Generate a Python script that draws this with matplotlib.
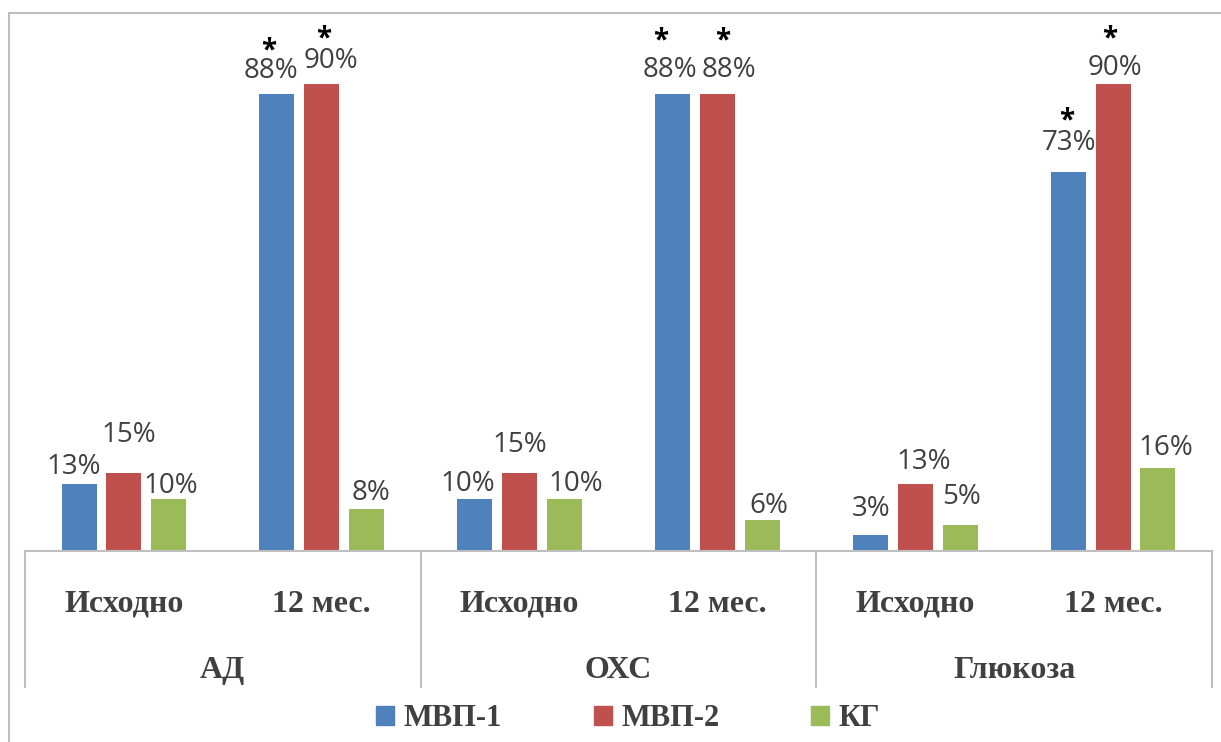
import matplotlib
matplotlib.use('Agg')
import matplotlib.pyplot as plt
from matplotlib.patches import Rectangle, Patch

plt.rcParams['font.family'] = ['Open Sans', 'DejaVu Sans']

groups = ['АД', 'ОХС', 'Глюкоза']
periods = ['Исходно', '12 мес.']
series_names = ['МВП-1', 'МВП-2', 'КГ']
mvp1 = [13, 88, 10, 88, 3, 73]
mvp2 = [15, 90, 15, 88, 13, 90]
kg = [10, 8, 10, 6, 5, 16]
# significant change vs. baseline, marked with *
star_mvp1 = [0, 1, 0, 1, 0, 1]
star_mvp2 = [0, 1, 0, 1, 0, 1]

colors = ['#4F81BD', '#C0504D', '#9BBB59']
grid_col = '#BFBFBF'
text_col = '#404040'

# hand-placed nudges for the value labels, in pixels
label_dx = [[-5, -6, -7, -3, 1, 1], [5, 9, 0, 12, 8, 2], [2, 4, 11, 6, 1, 8]]
label_dy = [[10, 16, 8, 17, 19, 22], [31, 16, 21, 17, 15, 9], [6, 9, 8, 7, 21, 13]]
star_dx = [[0, -8, 0, -12, 0, -1], [0, 2, 0, 5, 0, -3]]
star_dy = [[0, 36, 0, 46, 0, 44], [0, 37, 0, 46, 0, 37]]

W, H = 1221, 742
fig = plt.figure(figsize=(W / 100, H / 100), dpi=100)
ax = fig.add_axes([25 / W, 1 - 551 / H, (1212 - 25) / W, 519 / H])

series = [mvp1, mvp2, kg]
n = len(groups) * len(periods)
xs = [i + 0.5 for i in range(n)]
step = 0.227
width = 0.177

for s, vals in enumerate(series):
    pos = [x + (s - 1) * step for x in xs]
    ax.bar(pos, vals, width=width, color=colors[s], label=series_names[s], zorder=2)
    for i, v in enumerate(vals):
        ax.annotate(f'{v}%', (pos[i], v), xytext=(label_dx[s][i], label_dy[s][i]),
                    textcoords='offset pixels', ha='center', va='baseline',
                    fontsize=20, color=text_col)

for s, flags in enumerate([star_mvp1, star_mvp2]):
    vals = series[s]
    for i, f in enumerate(flags):
        if f:
            ax.annotate('*', (xs[i] + (s - 1) * step, vals[i]),
                        xytext=(star_dx[s][i], star_dy[s][i]),
                        textcoords='offset pixels', ha='center', va='baseline',
                        fontsize=20, fontweight='bold', color='black')

ax.set_xlim(0, n)
ax.set_ylim(0, 100)
for sp in ['top', 'right', 'left']:
    ax.spines[sp].set_visible(False)
ax.spines['bottom'].set_color(grid_col)
ax.spines['bottom'].set_linewidth(1.5)
ax.set_xticks([])
ax.set_yticks([])

# two-level category axis
trans = ax.get_xaxis_transform()
for b in range(0, n + 1, 2):
    ax.plot([b, b], [0, -0.262], transform=trans, color=grid_col, lw=1.5, clip_on=False)
for i, x in enumerate(xs):
    ax.text(x, -0.1175, periods[i % 2], transform=trans, ha='center', va='baseline',
            fontsize=23, fontweight='bold', family='Liberation Serif', color=text_col)
for g, name in enumerate(groups):
    ax.text(2 * g + 1, -0.2447, name, transform=trans, ha='center', va='baseline',
            fontsize=23, fontweight='bold', family='Liberation Serif', color=text_col)

handles = [Patch(color=c) for c in colors]
fig.legend(handles, series_names, loc='center', bbox_to_anchor=(628 / W, 1 - 719 / H),
           ncol=3, frameon=False, handlelength=0.6, handleheight=0.6,
           handletextpad=0.3, columnspacing=3.0,
           prop={'family': 'Liberation Serif', 'weight': 'bold', 'size': 22})
for t in fig.legends[0].get_texts():
    t.set_color(text_col)

# outer chart frame
fig.patches.append(Rectangle((9 / W, -0.1), 1.2, 1.1 - 13 / H, transform=fig.transFigure,
                             fill=False, edgecolor=grid_col, lw=1.5))

fig.savefig('out.png', dpi=100)
